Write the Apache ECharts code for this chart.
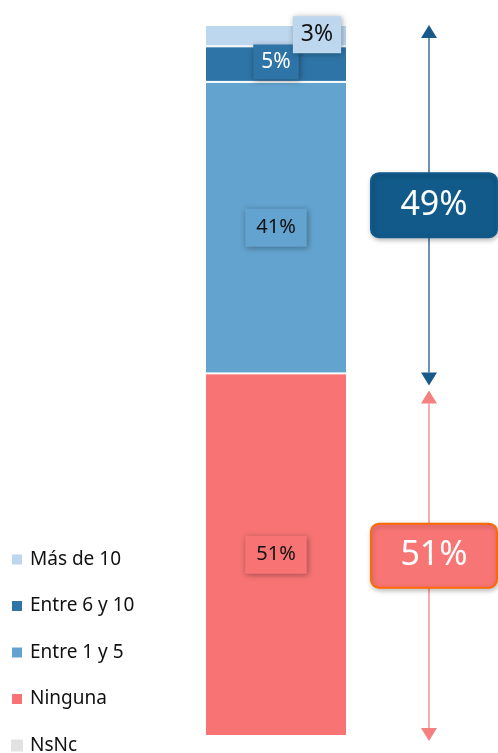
<!DOCTYPE html>
<html>
<head>
<meta charset="utf-8">
<script src="https://cdn.jsdelivr.net/npm/echarts@6/dist/echarts.min.js"></script>
<style>
  html, body { margin: 0; padding: 0; background: #fff; }
  #chart { width: 498px; height: 753px; }
</style>
</head>
<body>
<div id="chart"></div>
<script>
// data
const categories = ['Total']
const seriesNames = ['NsNc', 'Ninguna', 'Entre 1 y 5', 'Entre 6 y 10', 'Más de 10']
const seriesValues = [0, 51, 41, 5, 3]
const legendOrder = ['Más de 10', 'Entre 6 y 10', 'Entre 1 y 5', 'Ninguna', 'NsNc']
// bracket annotations: [from, to, label]
const groupFrom = [51, 0]
const groupTo = [100, 51]
const groupLabels = ['49%', '51%']

const colors = {
  'NsNc': '#E2E2E2',
  'Ninguna': '#F87474',
  'Entre 1 y 5': '#63A3CF',
  'Entre 6 y 10': '#2F74A6',
  'Más de 10': '#BDD7EE'
}
const labelStyle = {
  'Ninguna': { color: '#111', bg: '#F87474', offset: [0, 0], size: 20, pad: [10, 11, 8, 11] },
  'Entre 1 y 5': { color: '#111', bg: '#63A3CF', offset: [0, 0], size: 20, pad: [10, 11, 8, 11] },
  'Entre 6 y 10': { color: '#fff', bg: '#2F74A6', offset: [0, -2], size: 21, pad: [8, 8, 6, 8] },
  'Más de 10': { color: '#111', bg: '#BDD7EE', offset: [41, -1], size: 23, pad: [8, 8, 6, 8] }
}
const groupStyle = [
  { fill: '#115A8A', stroke: '#115A8A', line: '#1A5A8A', shift: 0 },
  { fill: '#F87575', stroke: '#FF6A00', line: '#F48080', shift: -10 }
]
const FONT = 'Noto Sans'

const chart = echarts.init(document.getElementById('chart'))

const barSeries = seriesNames.map((name, i) => {
  const ls = labelStyle[name]
  return {
    name,
    type: 'bar',
    stack: 'total',
    barWidth: '100%',
    data: [seriesValues[i]],
    itemStyle: { color: colors[name], borderColor: '#fff', borderWidth: seriesValues[i] ? 1 : 0 },
    label: ls ? {
      show: true,
      position: 'inside',
      offset: ls.offset,
      formatter: '{c}%',
      fontFamily: FONT,
      fontSize: ls.size,
      color: ls.color,
      backgroundColor: ls.bg,
      padding: ls.pad,
      shadowColor: 'rgba(0,0,0,0.35)',
      shadowBlur: 6,
      shadowOffsetX: 1,
      shadowOffsetY: 1
    } : { show: false },
    emphasis: { disabled: true }
  }
})

const annData = groupFrom.map((f, i) => [0, f, groupTo[i], i])

function renderBracket(params, api) {
  const idx = api.value(3)
  const st = groupStyle[idx]
  const top = api.coord([0, api.value(2)])
  const bot = api.coord([0, api.value(1)])
  const x = top[0] + 153
  const y1 = top[1] + (idx === 0 ? 0 : 17)
  const y2 = bot[1] + (idx === 0 ? 12 : 5)
  const ym = (y1 + y2) / 2 + st.shift
  const ah = 13, aw = 8
  const children = [
    { type: 'line', shape: { x1: x, y1: y1 + ah, x2: x, y2: y2 - ah }, style: { stroke: st.line, lineWidth: 1.3 } },
    { type: 'polygon', shape: { points: [[x, y1], [x - aw, y1 + ah], [x + aw, y1 + ah]] }, style: { fill: st.line } },
    { type: 'polygon', shape: { points: [[x, y2], [x - aw, y2 - ah], [x + aw, y2 - ah]] }, style: { fill: st.line } },
    {
      type: 'rect',
      shape: { x: x - 58, y: ym - 32, width: 126, height: 64, r: 8 },
      style: { fill: st.fill, stroke: st.stroke, lineWidth: 2, shadowColor: 'rgba(0,0,0,0.25)', shadowBlur: 5, shadowOffsetX: 1, shadowOffsetY: 2 }
    },
    {
      type: 'text',
      x: x + 5, y: ym,
      style: { text: groupLabels[idx], fill: '#fff', fontSize: 34, fontFamily: FONT, align: 'center', verticalAlign: 'middle' }
    }
  ]
  return { type: 'group', children }
}

chart.setOption({
  animation: false,
  color: seriesNames.map(n => colors[n]),
  legend: {
    data: legendOrder,
    orient: 'vertical',
    left: 10,
    top: 550,
    height: 220,
    padding: 0,
    icon: 'rect',
    itemWidth: 12,
    itemHeight: 12,
    itemGap: 27.5,
    selectedMode: false,
    textStyle: { fontFamily: FONT, fontSize: 19, color: '#111', padding: [0, 0, 0, 2] }
  },
  grid: { left: 205, width: 142, top: 25, bottom: 17 },
  xAxis: { type: 'category', data: categories, show: false },
  yAxis: { type: 'value', min: 0, max: 100, show: false },
  series: [
    ...barSeries,
    {
      type: 'custom',
      renderItem: renderBracket,
      data: annData,
      silent: true,
      clip: false,
      z: 5
    }
  ]
})
</script>
</body>
</html>
